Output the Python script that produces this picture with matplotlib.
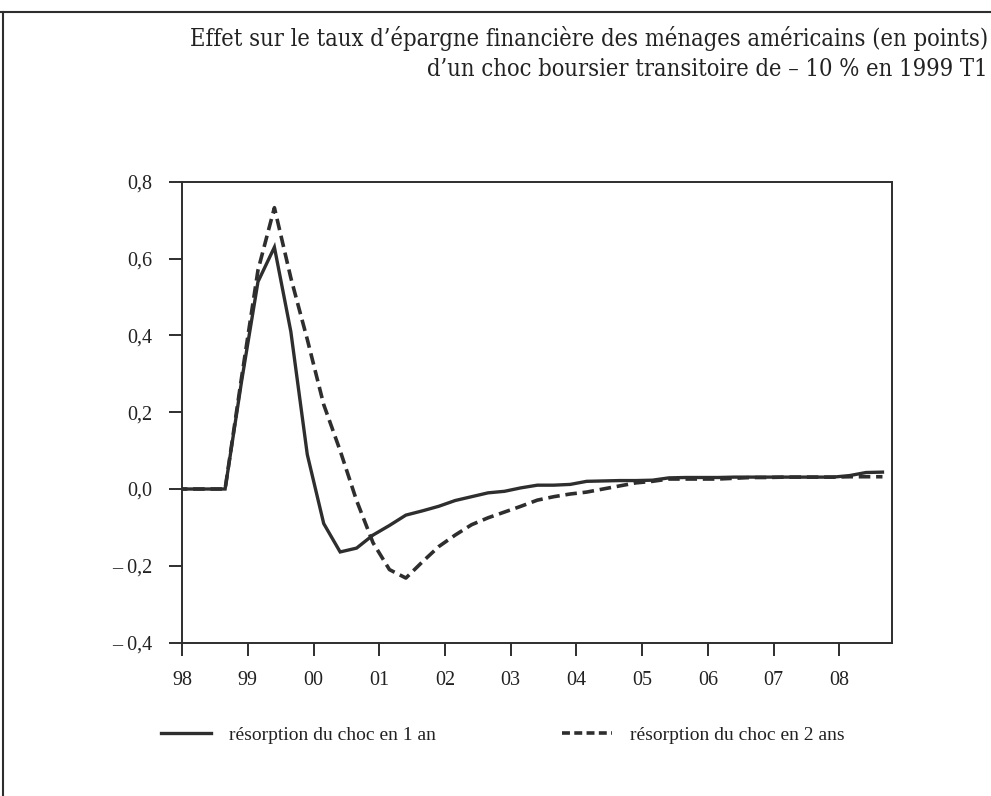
import numpy as np
import matplotlib
matplotlib.use('Agg')
import matplotlib.pyplot as plt
from matplotlib.lines import Line2D

# quarterly dates (decimal years)
dates = np.arange(1997.905, 2008.7, 0.25)

# choc résorbé en 1 an
choc_1an = [0, 0, 0, 0, 0.28, 0.54, 0.63, 0.41, 0.09, -0.09,
            -0.164, -0.154, -0.12, -0.095, -0.068, -0.057, -0.045, -0.03, -0.02, -0.01,
            -0.006, 0.003, 0.010, 0.010, 0.012, 0.020, 0.021, 0.022, 0.022, 0.023,
            0.029, 0.030, 0.030, 0.030, 0.031, 0.031, 0.031, 0.031, 0.031, 0.031,
            0.031, 0.035, 0.043, 0.044]

# choc résorbé en 2 ans
choc_2ans = [0, 0, 0, 0, 0.29, 0.57, 0.733, 0.55, 0.39, 0.22,
             0.10, -0.03, -0.14, -0.21, -0.232, -0.19, -0.15, -0.12, -0.093, -0.075,
             -0.06, -0.045, -0.029, -0.02, -0.013, -0.008, 0.0, 0.008, 0.016, 0.020,
             0.026, 0.026, 0.026, 0.026, 0.028, 0.030, 0.030, 0.031, 0.031, 0.031,
             0.031, 0.032, 0.032, 0.032]

years = list(range(1998, 2009))
year_labels = ['98', '99', '00', '01', '02', '03', '04', '05', '06', '07', '08']
yticks = [-0.4, -0.2, 0.0, 0.2, 0.4, 0.6, 0.8]
ytick_labels = ['– 0,4', '– 0,2', '0,0', '0,2', '0,4', '0,6', '0,8']

col = '#2e2e2e'
plt.rcParams['font.family'] = 'Liberation Serif'

fig = plt.figure(figsize=(9.91, 7.96), dpi=100)
ax = fig.add_axes([0.1837, 0.1928, 0.7164, 0.5786])

ax.plot(dates, choc_1an, color=col, lw=2.4, solid_joinstyle='miter')
ax.plot(dates, choc_2ans, color=col, lw=2.6, linestyle=(0, (3.2, 1.6)))

ax.set_xlim(1998, 2008.8)
ax.set_ylim(-0.4, 0.8)
ax.set_xticks(years)
ax.set_xticklabels(year_labels)
ax.set_yticks(yticks)
ax.set_yticklabels(ytick_labels)
ax.tick_params(axis='x', direction='out', length=9.5, width=1.4, color=col, labelsize=14.5, pad=11, labelcolor='#222222')
ax.tick_params(axis='y', direction='out', length=9.5, width=1.4, color=col, labelsize=14.5, pad=12, labelcolor='#222222')
for s in ax.spines.values():
    s.set_color(col)
    s.set_linewidth(1.4)

# title
title_font = dict(family='DejaVu Serif', fontstretch='condensed', fontsize=17, color='#222222')
fig.text(0.997, 0.952, "Effet sur le taux d’épargne financière des ménages américains (en points)",
         ha='right', va='center', **title_font)
fig.text(0.997, 0.913, "d’un choc boursier transitoire de – 10 % en 1999 T1",
         ha='right', va='center', **title_font)

# legend
h1 = Line2D([], [], color=col, lw=2.4)
h2 = Line2D([], [], color=col, lw=2.6, linestyle=(0, (2.2, 1.2)))
fig.legend([h1, h2], ['résorption du choc en 1 an', 'résorption du choc en 2 ans'],
           loc='center left', bbox_to_anchor=(0.162, 0.077), ncol=2, frameon=False,
           fontsize=14, handlelength=2.6, handletextpad=0.9, columnspacing=6.5,
           borderpad=0, borderaxespad=0, labelcolor='#222222')

# page frame of the scan
fig.add_artist(Line2D([0, 1], [0.985, 0.985], transform=fig.transFigure, color=col, lw=1.5))
fig.add_artist(Line2D([0.003, 0.003], [0, 0.985], transform=fig.transFigure, color=col, lw=1.5))

fig.savefig('out.png', dpi=100)
